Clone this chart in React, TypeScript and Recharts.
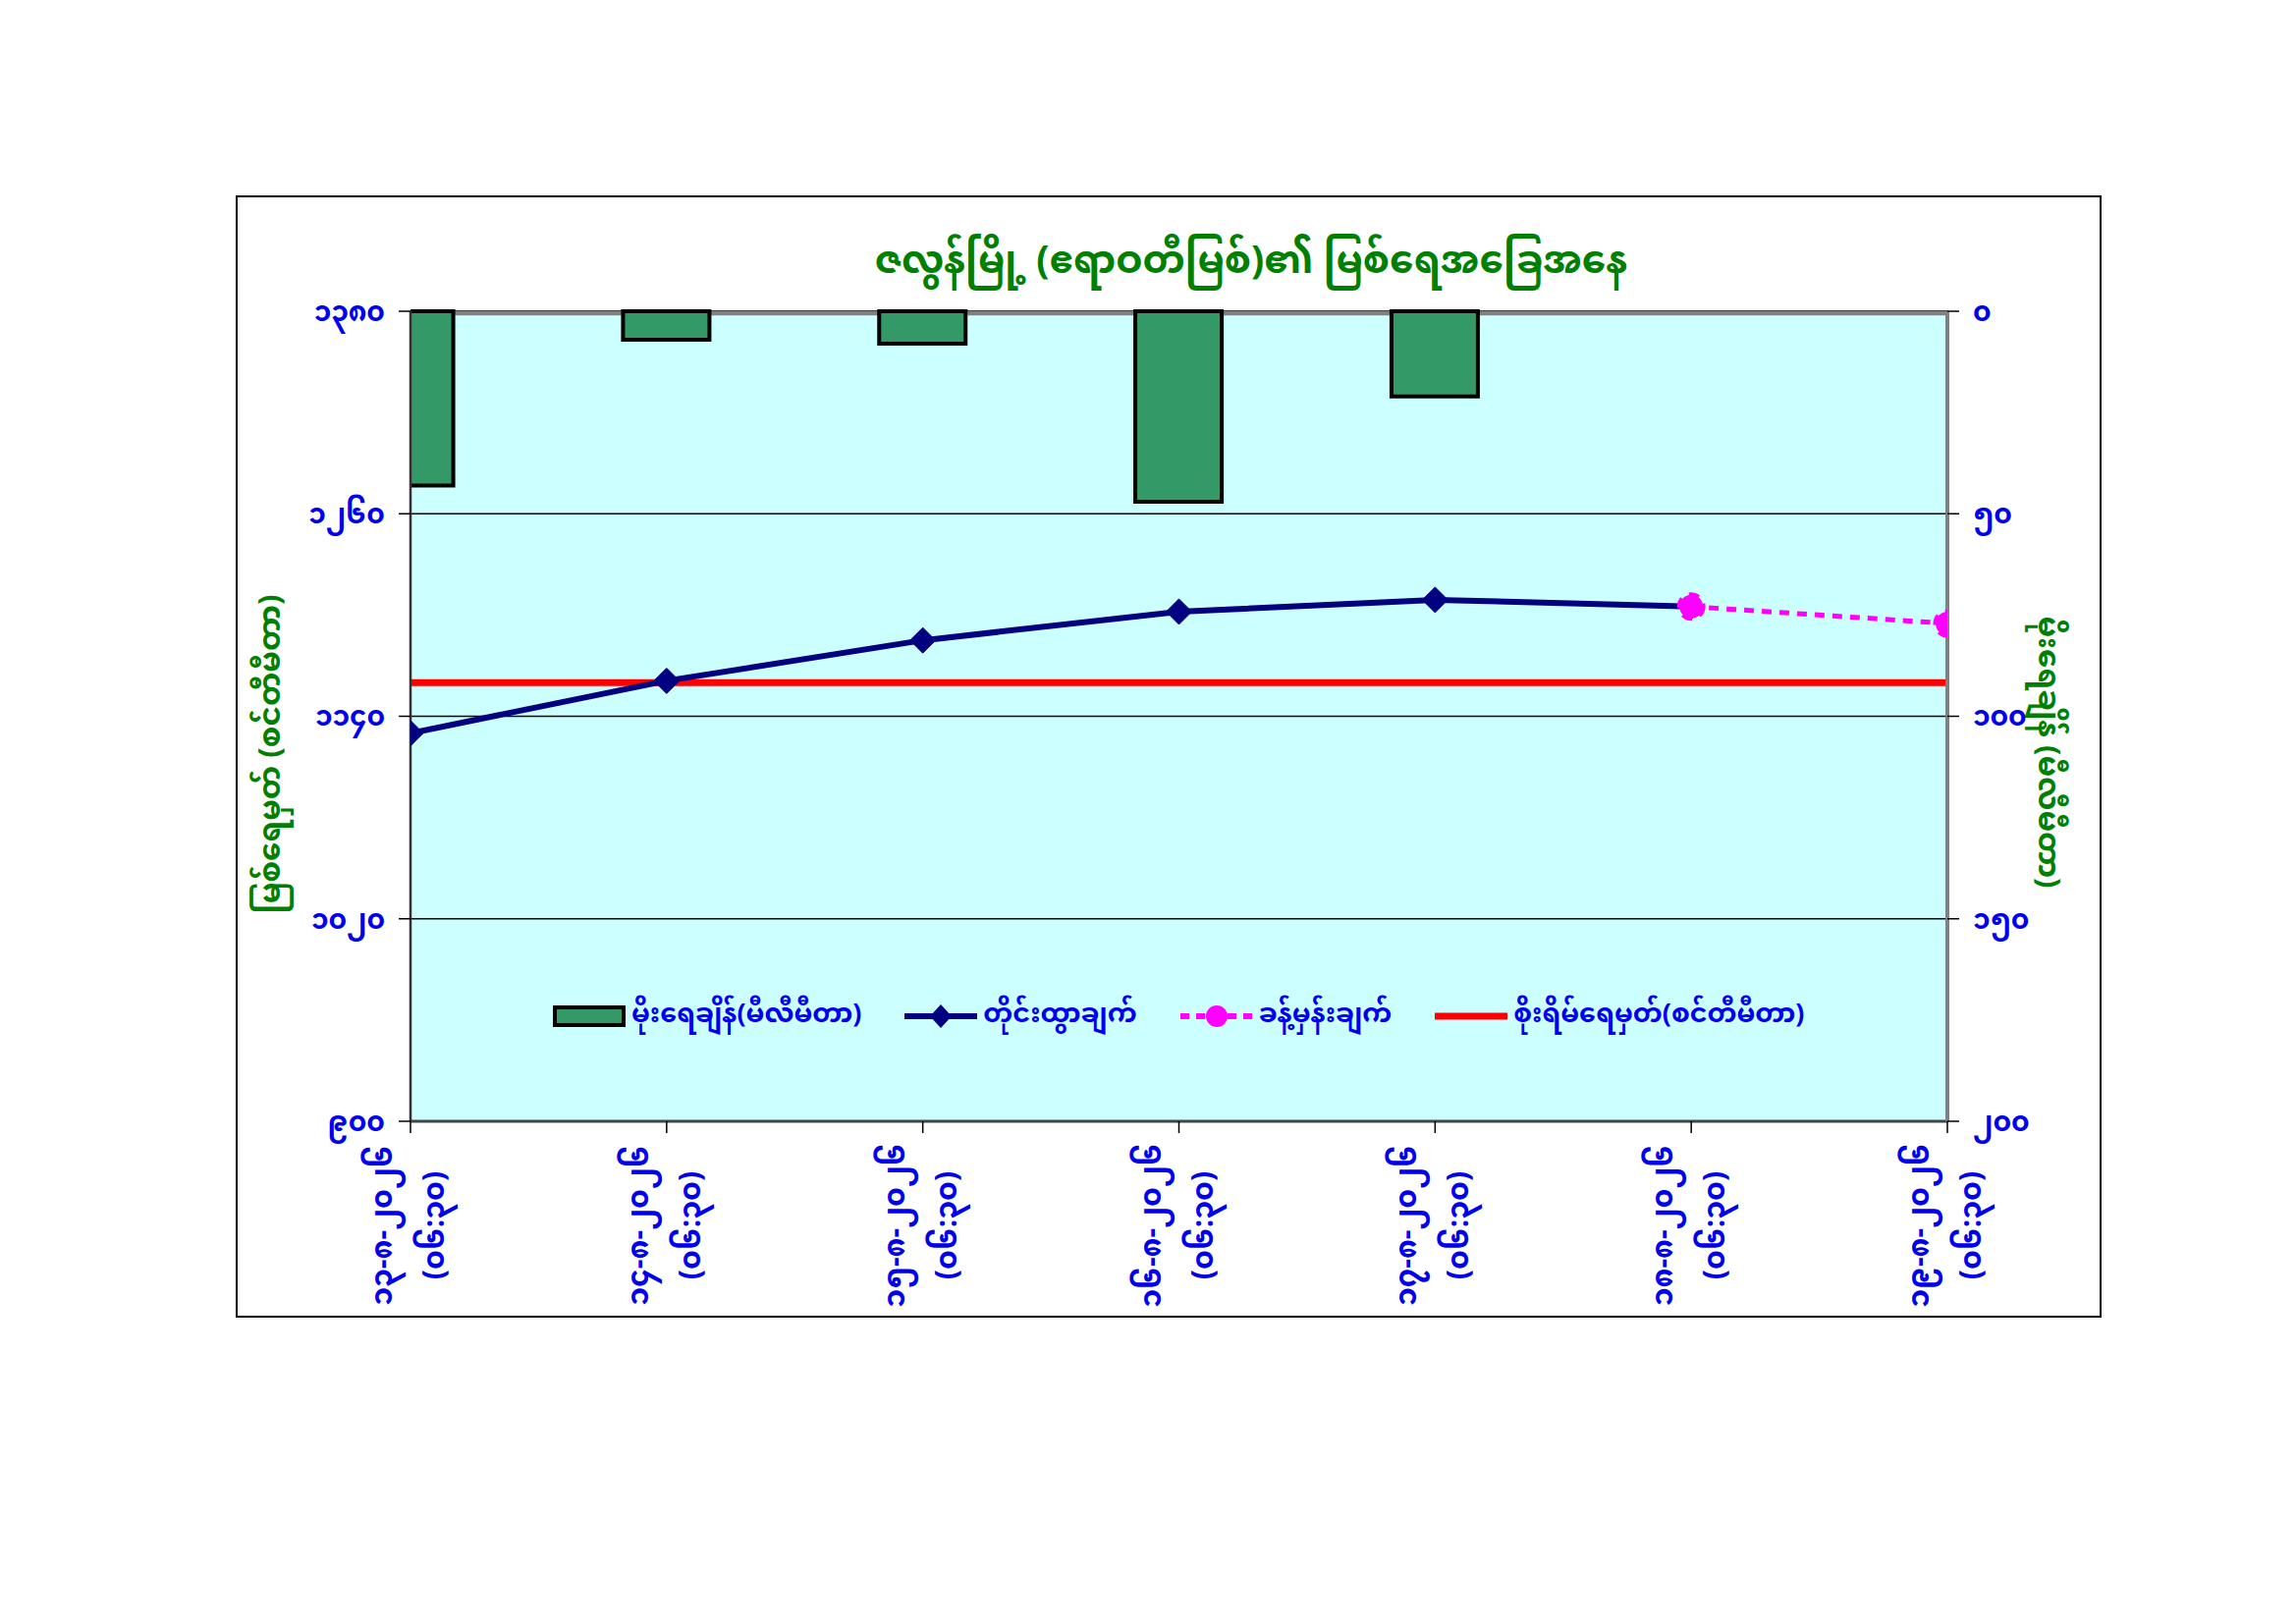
import React from "react";
import {
  ComposedChart, Bar, Line, XAxis, YAxis, CartesianGrid, Legend, ReferenceArea,
} from "recharts";

// categories (days) and their two-line axis labels
const dayIndex = [0, 1, 2, 3, 4, 5, 6];
const dateLabels = [
  "၁၃-၈-၂၀၂၆", "၁၄-၈-၂၀၂၆", "၁၅-၈-၂၀၂၆", "၁၆-၈-၂၀၂၆",
  "၁၇-၈-၂၀၂၆", "၁၈-၈-၂၀၂၆", "၁၉-၈-၂၀၂၆",
];
const timeLabels = ["(၀၆:၃၀)", "(၀၆:၃၀)", "(၀၆:၃၀)", "(၀၆:၃၀)", "(၀၆:၃၀)", "(၀၆:၃၀)", "(၀၆:၃၀)"];

// series
const rainfall = [43, 7, 8, 47, 21, null, null];
const observed = [1130, 1161, 1185, 1202, 1209, 1205, null];
const forecast = [null, null, null, null, null, 1205, 1195];
const dangerLevel = [1160, 1160, 1160, 1160, 1160, 1160, 1160];

const levelTicks = [900, 1020, 1140, 1260, 1380];
const rainTicks = [0, 50, 100, 150, 200];

const data = dayIndex.map((d, i) => ({
  idx: d,
  rain: rainfall[i],
  observed: observed[i],
  forecast: forecast[i],
  danger: dangerLevel[i],
}));

const MY_FONT = "'Noto Sans Myanmar', 'Padauk', 'Myanmar Text', 'Noto Sans', sans-serif";
const BLUE = "#0000EE";
const GREEN = "#008000";

const myDigits = "၀၁၂၃၄၅၆၇၈၉";
const toMy = (v: number | string) =>
  String(v).replace(/[0-9]/g, (c) => myDigits[Number(c)]);

const XTick = (props: any) => {
  const { x, y, payload } = props;
  const i = payload.value;
  return (
    <g transform={`translate(${x},${y})`}>
      <text
        transform="rotate(-90)"
        x={-92}
        y={-19}
        textAnchor="middle"
        fill={BLUE}
        fontSize={30}
        fontWeight="bold"
        fontFamily={MY_FONT}
      >
        {dateLabels[i]}
      </text>
      <text
        transform="rotate(-90)"
        x={-92}
        y={34}
        textAnchor="middle"
        fill={BLUE}
        fontSize={30}
        fontWeight="bold"
        fontFamily={MY_FONT}
      >
        {timeLabels[i]}
      </text>
    </g>
  );
};

const Diamond = (props: any) => {
  const { cx, cy } = props;
  if (cx == null || cy == null) return null;
  const r = 13;
  return (
    <path
      d={`M${cx},${cy - r} L${cx + r},${cy} L${cx},${cy + r} L${cx - r},${cy} Z`}
      fill="#000080"
      stroke="#000080"
    />
  );
};

const legendItems = [
  { key: "rain", label: "မိုးရေချိန်(မီလီမီတာ)" },
  { key: "observed", label: "တိုင်းထွာချက်" },
  { key: "forecast", label: "ခန့်မှန်းချက်" },
  { key: "danger", label: "စိုးရိမ်ရေမှတ်(စင်တီမီတာ)" },
];

const LegendIcon = ({ k }: { k: string }) => {
  if (k === "rain")
    return (
      <svg width={74} height={26}>
        <rect x={2} y={4} width={70} height={18} fill="#339966" stroke="#000" strokeWidth={4} />
      </svg>
    );
  if (k === "observed")
    return (
      <svg width={74} height={26}>
        <line x1={0} y1={13} x2={74} y2={13} stroke="#000080" strokeWidth={6} />
        <path d="M37,1 L48,13 L37,25 L26,13 Z" fill="#000080" />
      </svg>
    );
  if (k === "forecast")
    return (
      <svg width={74} height={26}>
        <line x1={0} y1={13} x2={74} y2={13} stroke="#FF00FF" strokeWidth={6} strokeDasharray="9 7" />
        <circle cx={37} cy={13} r={11} fill="#FF00FF" />
      </svg>
    );
  return (
    <svg width={74} height={26}>
      <line x1={0} y1={13} x2={74} y2={13} stroke="#FF0000" strokeWidth={7} />
    </svg>
  );
};

const renderLegend = () => (
  <div style={{ display: "flex", alignItems: "center", fontFamily: MY_FONT }}>
    {legendItems.map((it, i) => (
      <div key={it.key} style={{ display: "flex", alignItems: "center", marginRight: i < 3 ? 44 : 0 }}>
        <LegendIcon k={it.key} />
        <span style={{ color: BLUE, fontSize: 27, fontWeight: "bold", marginLeft: 6, whiteSpace: "nowrap" }}>
          {it.label}
        </span>
      </div>
    ))}
  </div>
);

export default function App() {
  return (
    <div style={{ position: "relative", width: 2338, height: 1654, margin: -8, background: "#fff" }}>
      <div
        style={{
          position: "absolute", left: 240, top: 199, width: 1900, height: 1143,
          border: "2px solid #000", boxSizing: "border-box",
        }}
      />
      <div
        style={{
          position: "absolute", left: 874, top: 226, width: 800, textAlign: "center",
          color: GREEN, fontSize: 39, fontWeight: "bold", fontFamily: MY_FONT, whiteSpace: "nowrap",
        }}
      >
        ဇလွန်မြို့ (ဧရာဝတီမြစ်)၏ မြစ်ရေအခြေအနေ
      </div>
      <div
        style={{
          position: "absolute", left: 278, top: 768, transform: "translate(-50%, -50%) rotate(-90deg)",
          color: GREEN, fontSize: 31, fontWeight: "bold", fontFamily: MY_FONT, whiteSpace: "nowrap",
        }}
      >
        မြစ်ရေမှတ် (စင်တီမီတာ)
      </div>
      <div
        style={{
          position: "absolute", left: 2083, top: 766, transform: "translate(-50%, -50%) rotate(90deg)",
          color: GREEN, fontSize: 31, fontWeight: "bold", fontFamily: MY_FONT, whiteSpace: "nowrap",
        }}
      >
        မိုးရေချိန် (မီလီမီတာ)
      </div>
      <div style={{ position: "absolute", left: 0, top: 0 }}>
        <ComposedChart
          width={2338}
          height={1654}
          data={data}
          margin={{ top: 317, right: 255, left: 318, bottom: 312 }}
        >
          <CartesianGrid
            yAxisId="left"
            vertical={false}
            stroke="#000"
            strokeWidth={1.5}
            fill="#CCFFFF"
            fillOpacity={1}
          />
          <XAxis
            dataKey="idx"
            type="number"
            domain={[0, 6]}
            ticks={dayIndex}
            allowDataOverflow
            height={200}
            interval={0}
            tick={<XTick />}
            tickSize={12}
            tickLine={{ stroke: "#000", strokeWidth: 1.5 }}
            axisLine={{ stroke: "#444", strokeWidth: 3 }}
          />
          <YAxis
            yAxisId="left"
            domain={[900, 1380]}
            ticks={levelTicks}
            width={100}
            tickSize={12}
            tickMargin={14}
            tickFormatter={toMy}
            tick={{ fill: BLUE, fontSize: 28, fontWeight: "bold", fontFamily: MY_FONT }}
            tickLine={{ stroke: "#000", strokeWidth: 1.5 }}
            axisLine={{ stroke: "#333", strokeWidth: 2.5 }}
          />
          <YAxis
            yAxisId="right"
            orientation="right"
            reversed
            domain={[0, 200]}
            ticks={rainTicks}
            width={100}
            tickSize={12}
            tickMargin={14}
            tickFormatter={toMy}
            tick={{ fill: BLUE, fontSize: 28, fontWeight: "bold", fontFamily: MY_FONT, textAnchor: "start" }}
            tickLine={{ stroke: "#000", strokeWidth: 1.5 }}
            axisLine={{ stroke: "#808080", strokeWidth: 4 }}
          />
          <ReferenceArea
            yAxisId="left"
            x1={0}
            x2={6}
            y1={1380}
            y2={1377.5}
            fill="#808080"
            fillOpacity={1}
            stroke="none"
            ifOverflow="hidden"
          />
          <Bar
            yAxisId="right"
            dataKey="rain"
            barSize={88}
            fill="#339966"
            stroke="#000"
            strokeWidth={4}
            isAnimationActive={false}
          />
          <Line
            yAxisId="left"
            dataKey="danger"
            stroke="#FF0000"
            strokeWidth={7}
            dot={false}
            activeDot={false}
            isAnimationActive={false}
          />
          <Line
            yAxisId="left"
            dataKey="observed"
            stroke="#000080"
            strokeWidth={6}
            dot={<Diamond />}
            activeDot={false}
            isAnimationActive={false}
          />
          <Line
            yAxisId="left"
            dataKey="forecast"
            stroke="#FF00FF"
            strokeWidth={5}
            strokeDasharray="10 8"
            dot={{ r: 12, fill: "#FF00FF", stroke: "#FF00FF" }}
            activeDot={false}
            isAnimationActive={false}
          />
          <Legend
            content={renderLegend}
            layout="horizontal"
            verticalAlign="middle"
            align="center"
            wrapperStyle={{ position: "absolute", left: 563, top: 1005, width: "auto" }}
          />
        </ComposedChart>
      </div>
    </div>
  );
}
